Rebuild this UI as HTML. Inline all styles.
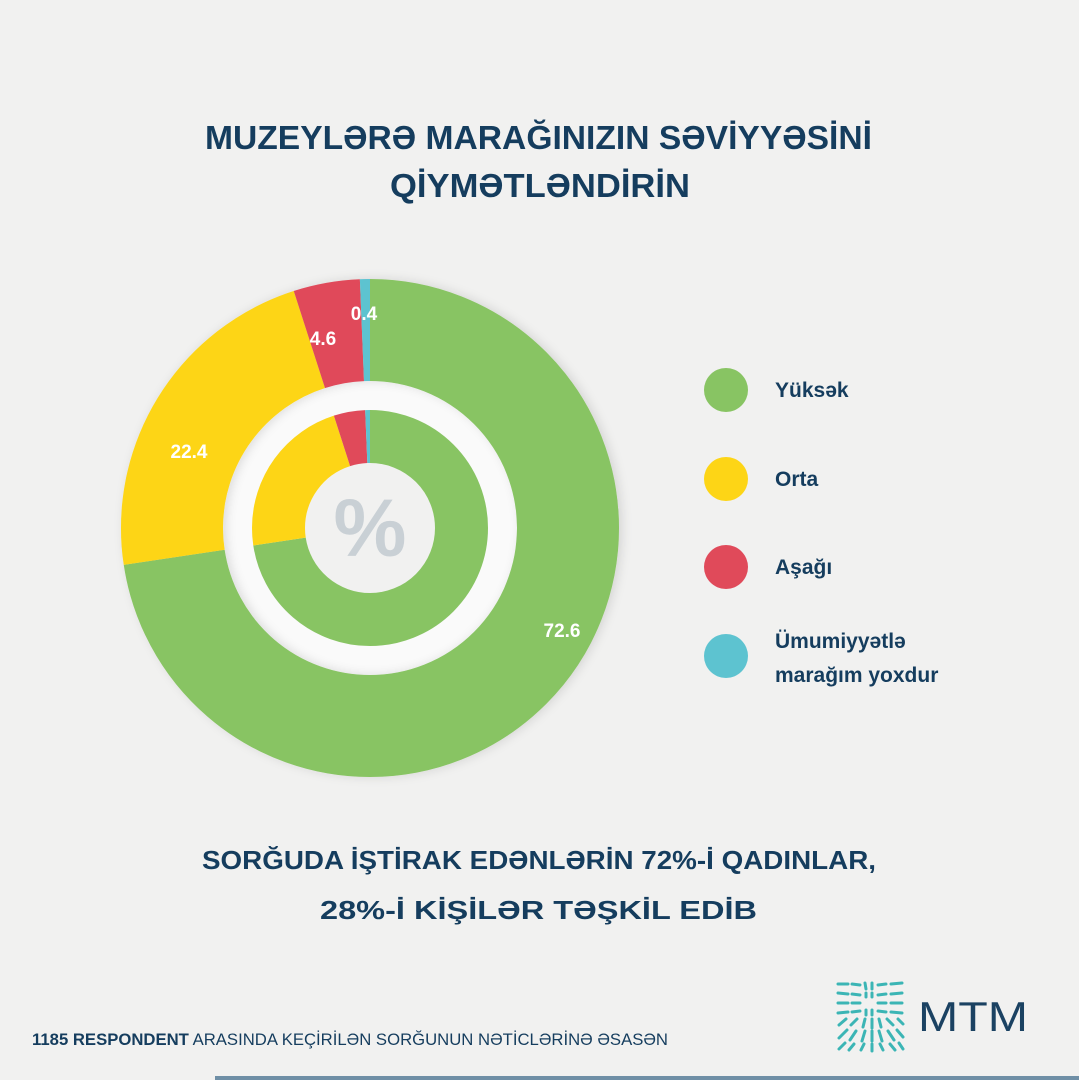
<!DOCTYPE html>
<html><head><meta charset="utf-8"><style>
html,body{margin:0;padding:0;background:#f1f1f0;}
svg{display:block;font-family:"Liberation Sans",sans-serif;}
</style></head><body>
<svg width="1079" height="1080" viewBox="0 0 1079 1080" xmlns="http://www.w3.org/2000/svg">
<defs>
<filter id="sh" x="-20%" y="-20%" width="140%" height="140%"><feDropShadow dx="0" dy="3" stdDeviation="5" flood-color="#000" flood-opacity="0.12"/></filter>
</defs>
<rect width="1079" height="1080" fill="#f1f1f0"/>
<g fill="#153d5e" font-weight="bold">
<text x="205" y="149" font-size="33" textLength="667" lengthAdjust="spacingAndGlyphs">MUZEYLƏRƏ MARAĞINIZIN SƏVİYYƏSİNİ</text>
<text x="390" y="197" font-size="33" textLength="300" lengthAdjust="spacingAndGlyphs">QİYMƏTLƏNDİRİN</text>
<text x="202" y="869" font-size="26" textLength="674" lengthAdjust="spacingAndGlyphs">SORĞUDA İŞTİRAK EDƏNLƏRİN 72%-İ QADINLAR,</text>
<text x="320" y="919" font-size="26" textLength="437" lengthAdjust="spacingAndGlyphs">28%-İ KİŞİLƏR TƏŞKİL EDİB</text>
</g>
<!-- rings -->
<circle cx="370" cy="528" r="133" fill="none" stroke="#fafafa" stroke-width="30"/>
<g transform="rotate(-90 370 528)" fill="none">
<g filter="url(#sh)">
<circle cx="370" cy="528" r="198" stroke="#88c463" stroke-width="102" stroke-dasharray="903.2 1244.1"/>
<circle cx="370" cy="528" r="198" stroke="#fdd516" stroke-width="102" stroke-dasharray="278.7 1244.1" stroke-dashoffset="-903.2"/>
<circle cx="370" cy="528" r="198" stroke="#e04a5a" stroke-width="102" stroke-dasharray="53.5 1244.1" stroke-dashoffset="-1181.9"/>
<circle cx="370" cy="528" r="198" stroke="#5dc3d0" stroke-width="102" stroke-dasharray="8.9 1244.1" stroke-dashoffset="-1235.4"/>
</g>
<circle cx="370" cy="528" r="91.5" stroke="#88c463" stroke-width="53" stroke-dasharray="417.4 574.9"/>
<circle cx="370" cy="528" r="91.5" stroke="#fdd516" stroke-width="53" stroke-dasharray="128.8 574.9" stroke-dashoffset="-417.4"/>
<circle cx="370" cy="528" r="91.5" stroke="#e04a5a" stroke-width="53" stroke-dasharray="24.7 574.9" stroke-dashoffset="-546.2"/>
<circle cx="370" cy="528" r="91.5" stroke="#5dc3d0" stroke-width="53" stroke-dasharray="4.2 574.9" stroke-dashoffset="-570.9"/>
</g>
<text x="370" y="556" font-size="82" font-weight="bold" fill="#c9d0d5" text-anchor="middle">%</text>
<g fill="#fff" font-weight="bold" font-size="19" text-anchor="middle">
<text x="562" y="637">72.6</text>
<text x="189" y="458">22.4</text>
<text x="323" y="345">4.6</text>
<text x="364" y="320">0.4</text>
</g>
<!-- legend -->
<circle cx="726" cy="390" r="22" fill="#88c463"/>
<circle cx="726" cy="479" r="22" fill="#fdd516"/>
<circle cx="726" cy="567" r="22" fill="#e04a5a"/>
<circle cx="726" cy="656" r="22" fill="#5dc3d0"/>
<g fill="#153d5e" font-weight="bold" font-size="21">
<text x="775" y="397">Yüksək</text>
<text x="775" y="486">Orta</text>
<text x="775" y="574">Aşağı</text>
<text x="775" y="648">Ümumiyyətlə</text>
<text x="775" y="682">marağım yoxdur</text>
</g>
<!-- footer -->
<text x="32" y="1045" font-size="17" fill="#153d5e" textLength="636" lengthAdjust="spacingAndGlyphs"><tspan font-weight="bold">1185 RESPONDENT</tspan> ARASINDA KEÇİRİLƏN SORĞUNUN NƏTİCLƏRİNƏ ƏSASƏN</text>
<rect x="215" y="1076" width="864" height="4" fill="#6f8fa6"/>
<!-- logo -->
<g stroke="#3bb5b5" stroke-width="3" stroke-linecap="round">
<line x1="838" y1="984" x2="848" y2="984"/><line x1="852" y1="984" x2="860" y2="985"/><line x1="865" y1="983" x2="866" y2="989"/><line x1="872" y1="983" x2="872" y2="989"/><line x1="878" y1="985" x2="886" y2="984"/><line x1="891" y1="984" x2="902" y2="983"/>
<line x1="838" y1="993" x2="848" y2="994"/><line x1="852" y1="994" x2="860" y2="995"/><line x1="866" y1="993" x2="866" y2="997"/><line x1="872" y1="993" x2="872" y2="997"/><line x1="878" y1="995" x2="886" y2="994"/><line x1="891" y1="994" x2="902" y2="993"/>
<line x1="838" y1="1003" x2="848" y2="1003"/><line x1="852" y1="1003" x2="860" y2="1003"/><line x1="878" y1="1003" x2="886" y2="1003"/><line x1="891" y1="1003" x2="902" y2="1003"/>
<line x1="838" y1="1013" x2="848" y2="1012"/><line x1="852" y1="1012" x2="860" y2="1011"/><line x1="866" y1="1010" x2="866" y2="1015"/><line x1="872" y1="1010" x2="872" y2="1015"/><line x1="878" y1="1011" x2="886" y2="1012"/><line x1="891" y1="1012" x2="902" y2="1013"/>
<line x1="839" y1="1025" x2="846" y2="1019"/><line x1="851" y1="1025" x2="857" y2="1019"/><line x1="863" y1="1027" x2="865" y2="1019"/><line x1="872" y1="1019" x2="872" y2="1028"/><line x1="879" y1="1019" x2="881" y2="1027"/><line x1="887" y1="1019" x2="893" y2="1025"/><line x1="898" y1="1019" x2="903" y2="1024"/>
<line x1="839" y1="1038" x2="847" y2="1030"/><line x1="850" y1="1040" x2="856" y2="1031"/><line x1="862" y1="1041" x2="865" y2="1031"/><line x1="872" y1="1031" x2="872" y2="1041"/><line x1="879" y1="1031" x2="882" y2="1041"/><line x1="888" y1="1031" x2="894" y2="1040"/><line x1="897" y1="1030" x2="903" y2="1037"/>
<line x1="839" y1="1049" x2="845" y2="1043"/><line x1="849" y1="1050" x2="854" y2="1044"/><line x1="861" y1="1050" x2="864" y2="1044"/><line x1="872" y1="1044" x2="872" y2="1051"/><line x1="880" y1="1044" x2="883" y2="1050"/><line x1="890" y1="1044" x2="895" y2="1050"/><line x1="899" y1="1043" x2="903" y2="1049"/>
</g>
<text x="918" y="1031" font-size="42" fill="#1b4262" textLength="110" lengthAdjust="spacingAndGlyphs">MTM</text>
</svg>
</body></html>
